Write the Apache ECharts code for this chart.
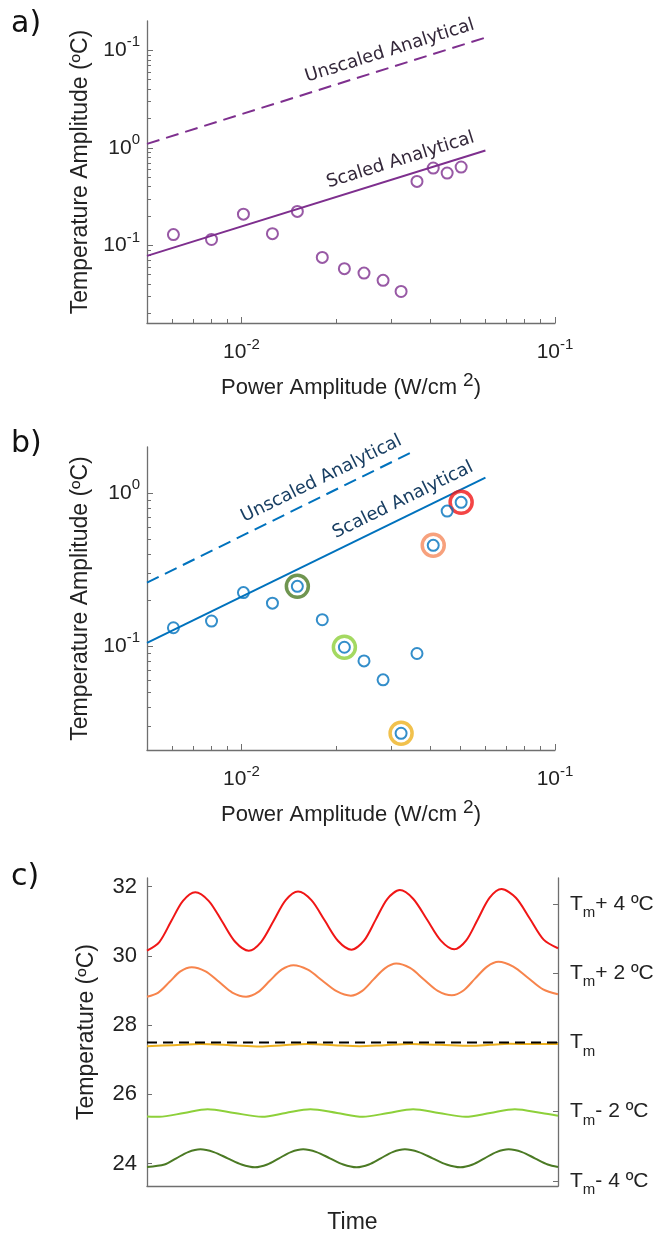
<!DOCTYPE html>
<html>
<head>
<meta charset="utf-8">
<script src="https://cdn.jsdelivr.net/npm/echarts@6/dist/echarts.min.js"></script>
<style>
  html, body { margin: 0; padding: 0; background: #ffffff; }
  #chart { width: 657px; height: 1235px; }
</style>
</head>
<body>
<div id="chart"></div>
<script>
// ---------- measured data ----------
// power amplitude of each run (W/cm^2), shared by panels a and b
const powerAmplitude = [0.00607, 0.00803, 0.01015, 0.01256, 0.01508, 0.01811, 0.0213,
                        0.0246, 0.0283, 0.0323, 0.0363, 0.0409, 0.0453, 0.0502];
// temperature amplitude (°C), panel a
const tempAmpA = [0.129, 0.115, 0.209, 0.132, 0.223, 0.0753, 0.0577,
                  0.052, 0.0438, 0.0337, 0.453, 0.621, 0.552, 0.636];
// temperature amplitude (°C), panel b
const tempAmpB = [0.132, 0.146, 0.224, 0.191, 0.246, 0.149, 0.0985,
                  0.0802, 0.0603, 0.027, 0.0896, 0.456, 0.763, 0.870];
// runs of panel b that are shown as traces in panel c
const highlightIndex = [4, 6, 9, 11, 13];

// analytical model lines: [power, temperature amplitude] end points
const scaledA = [[0.005, 0.078], [0.06, 0.94]];
const unscaledA = [[0.005, 1.10], [0.06, 13.5]];
const scaledB = [[0.005, 0.105], [0.06, 1.26]];
const unscaledB = [[0.005, 0.26], [0.0355, 1.88]];

// log-axis ticks
const xMajorTicks = [0.01, 0.1];
const xMajorExp = ['-2', '-1'];
const xMinorTicks = [0.006, 0.007, 0.008, 0.009, 0.02, 0.03, 0.04, 0.05, 0.06, 0.07, 0.08, 0.09];
const yMajorTicksA = [0.1, 1, 10];
const yMajorExpA = ['-1', '0', '-1'];
const yMinorTicksA = [0.02, 0.03, 0.04, 0.05, 0.06, 0.07, 0.08, 0.09,
                      0.2, 0.3, 0.4, 0.5, 0.6, 0.7, 0.8, 0.9,
                      2, 3, 4, 5, 6, 7, 8, 9];
const yMajorTicksB = [0.1, 1];
const yMajorExpB = ['-1', '0'];
const yMinorTicksB = [0.03, 0.04, 0.05, 0.06, 0.07, 0.08, 0.09,
                      0.2, 0.3, 0.4, 0.5, 0.6, 0.7, 0.8, 0.9];

// panel c: temperature traces, [time, °C]
const traceTmPlus4 = [[0, 30.15], [1.2, 30.40], [2.35, 31.0], [3.5, 31.59], [4.7, 31.84], [6.0, 31.59], [7.3, 31.0], [8.6, 30.40],
  [9.9, 30.15], [11.1, 30.40], [12.3, 31.0], [13.5, 31.61], [14.7, 31.86], [16.0, 31.61], [17.3, 31.02], [18.6, 30.43],
  [19.9, 30.18], [21.1, 30.43], [22.25, 31.04], [23.4, 31.65], [24.6, 31.90], [25.9, 31.65], [27.25, 31.05], [28.6, 30.44],
  [29.9, 30.19], [31.05, 30.44], [32.2, 31.06], [33.35, 31.68], [34.5, 31.93], [35.9, 31.68], [37.25, 31.08], [38.6, 30.47],
  [40, 30.22]];
const traceTmPlus2 = [[0, 28.82], [1.1, 28.94], [2.2, 29.25], [3.25, 29.55], [4.35, 29.67], [5.7, 29.55], [7.0, 29.25], [8.3, 28.94],
  [9.64, 28.82], [10.8, 28.95], [11.95, 29.28], [13.1, 29.60], [14.25, 29.73], [15.65, 29.60], [17.05, 29.29], [18.45, 28.98],
  [19.84, 28.85], [20.95, 28.99], [22.05, 29.32], [23.15, 29.64], [24.25, 29.78], [25.6, 29.65], [26.95, 29.32], [28.3, 28.99],
  [29.67, 28.86], [30.8, 29.0], [31.95, 29.35], [33.1, 29.69], [34.2, 29.83], [35.65, 29.69], [37.1, 29.36], [38.55, 29.03],
  [40, 28.89]];
const traceTm = [[0, 27.39], [2.6, 27.42], [5.2, 27.45], [8.1, 27.42], [11, 27.38], [13.3, 27.42], [15.6, 27.45], [18.2, 27.42],
  [20.7, 27.39], [23.1, 27.42], [25.6, 27.45], [28.5, 27.43], [31.5, 27.40], [33.4, 27.43], [35.3, 27.46], [37.7, 27.45], [40, 27.45]];
const traceTmMinus2 = [[0, 25.36], [1.2, 25.35], [3.6, 25.46], [5.9, 25.57], [8.5, 25.46], [11.2, 25.35], [13.5, 25.46], [15.9, 25.57],
  [18.5, 25.46], [21.0, 25.35], [23.5, 25.46], [25.9, 25.57], [28.4, 25.46], [31.0, 25.35], [33.4, 25.46], [35.8, 25.57],
  [38.4, 25.46], [40, 25.38]];
const traceTmMinus4 = [[0, 23.90], [1.7, 23.97], [2.85, 24.15], [4.0, 24.33], [5.2, 24.41], [6.5, 24.33], [7.85, 24.15], [9.2, 23.97],
  [10.5, 23.89], [11.7, 23.97], [12.85, 24.15], [14.0, 24.33], [15.2, 24.41], [16.5, 24.33], [17.8, 24.15], [19.1, 23.97],
  [20.4, 23.89], [21.6, 23.97], [22.75, 24.15], [23.9, 24.33], [25.1, 24.41], [26.45, 24.33], [27.8, 24.15], [29.15, 23.97],
  [30.5, 23.89], [31.7, 23.97], [32.85, 24.15], [34.0, 24.33], [35.2, 24.41], [36.5, 24.33], [37.75, 24.15], [39.0, 23.97],
  [40, 23.90]];
const meltingLine = [[0, 27.5], [40, 27.5]];

// panel c ticks
const tempTicks = [24, 26, 28, 30, 32];
const offsetTicks = [23.5, 25.5, 27.5, 29.5, 31.5];
const offsetLabels = ['- 4 ºC', '- 2 ºC', '', '+ 2 ºC', '+ 4 ºC'];

// ---------- styling ----------
const PURPLE = '#7E2F8E';
const BLUE = '#0072BD';
const TRACE_COLORS = ['#f01616', '#f7844c', '#EDB120', '#8dd03a', '#4b7a24']; // +4, +2, 0, -2, -4
const RING_COLORS = ['#4b7a24', '#8dd03a', '#EDB120', '#f5895c', '#f01616'];  // in highlightIndex order
const AXIS_COLOR = '#6f6f6f';
const TEXT_COLOR = '#222222';
const SANS = '"Liberation Sans", Arial, sans-serif';
const VERDANA = '"DejaVu Sans", Verdana, sans-serif';

const chart = echarts.init(document.getElementById('chart'), null, { renderer: 'canvas' });

function powerLabel(ticks, exps) {
  return function (v) {
    const i = ticks.findIndex(t => Math.abs(t - v) / t < 1e-6);
    return i < 0 ? '' : '{b|10}{s|' + exps[i] + '}';
  };
}
const powRich = {
  b: { fontFamily: SANS, fontSize: 21, color: TEXT_COLOR, padding: [5, 0, 0, 0] },
  s: { fontFamily: SANS, fontSize: 15, color: TEXT_COLOR, verticalAlign: 'top' }
};

function logXAxis(grid, major) {
  if (major) {
    return {
      type: 'log', gridIndex: grid, position: 'bottom', min: 0.005, max: 0.1,
      axisLine: { show: true, lineStyle: { color: AXIS_COLOR, width: 1.3 } },
      axisTick: { show: true, inside: true, length: 6, customValues: xMajorTicks, lineStyle: { color: AXIS_COLOR, width: 1 } },
      axisLabel: { show: true, margin: 14, customValues: xMajorTicks, formatter: powerLabel(xMajorTicks, xMajorExp), rich: powRich },
      splitLine: { show: false },
      name: '{t|Power Amplitude (W/cm }{s|2}{t|)}', nameLocation: 'middle', nameGap: 48,
      nameTextStyle: { rich: {
        t: { fontFamily: SANS, fontSize: 22, color: TEXT_COLOR, padding: [6, 0, 0, 0] },
        s: { fontFamily: SANS, fontSize: 19, color: TEXT_COLOR, verticalAlign: 'top' }
      } }
    };
  }
  return {
    type: 'log', gridIndex: grid, position: 'bottom', min: 0.005, max: 0.1,
    axisLine: { show: false },
    axisTick: { show: true, inside: true, length: 4, customValues: xMinorTicks, lineStyle: { color: AXIS_COLOR, width: 1 } },
    axisLabel: { show: false }, splitLine: { show: false }
  };
}

function logYAxis(grid, min, max, majorTicks, majorExp, minorTicks, major) {
  if (major) {
    return {
      type: 'log', gridIndex: grid, position: 'left', min: min, max: max,
      axisLine: { show: true, lineStyle: { color: AXIS_COLOR, width: 1.3 } },
      axisTick: { show: true, inside: true, length: 6, customValues: majorTicks, lineStyle: { color: AXIS_COLOR, width: 1 } },
      axisLabel: { show: true, margin: 7, customValues: majorTicks, formatter: powerLabel(majorTicks, majorExp),
                   rich: powRich, padding: [0, 0, 5, 0] },
      splitLine: { show: false },
      name: 'Temperature Amplitude (ºC)', nameLocation: 'middle', nameGap: 49,
      nameTextStyle: { fontFamily: SANS, fontSize: 23, color: TEXT_COLOR }
    };
  }
  return {
    type: 'log', gridIndex: grid, position: 'left', min: min, max: max,
    axisLine: { show: false },
    axisTick: { show: true, inside: true, length: 4, customValues: minorTicks, lineStyle: { color: AXIS_COLOR, width: 1 } },
    axisLabel: { show: false }, splitLine: { show: false }
  };
}

function modelLine(seg, color, dashed, text, textColor, xIdx, yIdx) {
  return {
    type: 'line', xAxisIndex: xIdx, yAxisIndex: yIdx, data: seg, showSymbol: false, silent: true,
    lineStyle: { color: color, width: 2, type: dashed ? [13, 7] : 'solid' },
    z: 2,
    markLine: {
      silent: true, symbol: ['none', 'none'], animation: false,
      lineStyle: { color: 'rgba(0,0,0,0)', width: 0 },
      label: { show: true, position: 'insideEndTop', formatter: text, distance: 7,
               fontFamily: VERDANA, fontSize: 18, color: textColor },
      emphasis: { disabled: true },
      data: [[{ coord: seg[0] }, { coord: seg[1] }]]
    }
  };
}

const pointsA = powerAmplitude.map((p, i) => [p, tempAmpA[i]]);
const pointsB = powerAmplitude.map((p, i) => [p, tempAmpB[i]]);
const ringPoints = highlightIndex.map((k, j) => ({
  value: [powerAmplitude[k], tempAmpB[k]],
  itemStyle: { borderColor: RING_COLORS[j] }
}));

function trace(data, color, yIdx) {
  return {
    type: 'line', xAxisIndex: 4, yAxisIndex: yIdx, data: data, smooth: 0.3, showSymbol: false, silent: true,
    lineStyle: { color: color, width: 2 }
  };
}

const panelLetter = { fontFamily: VERDANA, fontSize: 30, fontWeight: 'normal', color: '#111' };

const option = {
  animation: false,
  backgroundColor: '#ffffff',
  title: [
    { text: 'a)', left: 11, top: 9, padding: 0, textStyle: panelLetter },
    { text: 'b)', left: 11, top: 429, padding: 0, textStyle: panelLetter },
    { text: 'c)', left: 11, top: 862, padding: 0, textStyle: panelLetter }
  ],
  grid: [
    { left: 147, top: 21, width: 408, height: 302, outerBoundsMode: 'none' },
    { left: 147, top: 447, width: 408, height: 303, outerBoundsMode: 'none' },
    { left: 147, top: 878, width: 411, height: 308, outerBoundsMode: 'none' }
  ],
  xAxis: [
    logXAxis(0, true),
    logXAxis(0, false),
    logXAxis(1, true),
    logXAxis(1, false),
    {
      type: 'value', gridIndex: 2, min: 0, max: 40, position: 'bottom',
      axisLine: { show: true, lineStyle: { color: AXIS_COLOR, width: 1.3 } },
      axisTick: { show: false }, axisLabel: { show: false }, splitLine: { show: false },
      name: 'Time', nameLocation: 'middle', nameGap: 25,
      nameTextStyle: { fontFamily: SANS, fontSize: 23, color: TEXT_COLOR }
    }
  ],
  yAxis: [
    logYAxis(0, 0.016, 20, yMajorTicksA, yMajorExpA, yMinorTicksA, true),
    logYAxis(0, 0.016, 20, yMajorTicksA, yMajorExpA, yMinorTicksA, false),
    logYAxis(1, 0.021, 2, yMajorTicksB, yMajorExpB, yMinorTicksB, true),
    logYAxis(1, 0.021, 2, yMajorTicksB, yMajorExpB, yMinorTicksB, false),
    {
      type: 'value', gridIndex: 2, position: 'left', min: 23.35, max: 32.25,
      axisLine: { show: true, lineStyle: { color: AXIS_COLOR, width: 1.3 } },
      axisTick: { show: true, inside: true, length: 5, customValues: tempTicks, lineStyle: { color: AXIS_COLOR, width: 1 } },
      axisLabel: { show: true, margin: 10, customValues: tempTicks, fontFamily: SANS, fontSize: 22, color: TEXT_COLOR },
      splitLine: { show: false },
      name: 'Temperature (ºC)', nameLocation: 'middle', nameGap: 49,
      nameTextStyle: { fontFamily: SANS, fontSize: 23, color: TEXT_COLOR }
    },
    {
      type: 'value', gridIndex: 2, position: 'right', min: 23.35, max: 32.25,
      axisLine: { show: true, lineStyle: { color: AXIS_COLOR, width: 1.3 } },
      axisTick: { show: true, inside: true, length: 5, customValues: offsetTicks, lineStyle: { color: AXIS_COLOR, width: 1 } },
      axisLabel: {
        show: true, margin: 12, customValues: offsetTicks, padding: [6, 0, 0, 0],
        formatter: function (v) {
          const i = offsetTicks.findIndex(t => Math.abs(t - v) < 1e-6);
          if (i < 0) return '';
          return '{T|T}{m|m}' + (offsetLabels[i] ? '{r|' + offsetLabels[i] + '}' : '');
        },
        rich: {
          T: { fontFamily: SANS, fontSize: 21, color: TEXT_COLOR, padding: [0, 0, 6, 0] },
          m: { fontFamily: SANS, fontSize: 15, color: TEXT_COLOR, verticalAlign: 'bottom' },
          r: { fontFamily: SANS, fontSize: 21, color: TEXT_COLOR, padding: [0, 0, 6, 0] }
        }
      },
      splitLine: { show: false }
    }
  ],
  series: [
    // panel a
    modelLine(unscaledA, PURPLE, true, 'Unscaled Analytical', '#34283a', 0, 0),
    modelLine(scaledA, PURPLE, false, 'Scaled Analytical', '#34283a', 0, 0),
    {
      type: 'scatter', xAxisIndex: 0, yAxisIndex: 0, data: pointsA, symbol: 'circle', symbolSize: 11, silent: true, z: 3,
      itemStyle: { color: 'rgba(0,0,0,0)', borderColor: PURPLE, borderWidth: 2 }
    },
    // panel b
    modelLine(unscaledB, BLUE, true, 'Unscaled Analytical', '#183e62', 2, 2),
    modelLine(scaledB, BLUE, false, 'Scaled Analytical', '#183e62', 2, 2),
    {
      type: 'scatter', xAxisIndex: 2, yAxisIndex: 2, data: ringPoints, symbol: 'circle', symbolSize: 22, silent: true, z: 3,
      itemStyle: { color: 'rgba(0,0,0,0)', borderWidth: 3.5 }
    },
    {
      type: 'scatter', xAxisIndex: 2, yAxisIndex: 2, data: pointsB, symbol: 'circle', symbolSize: 11, silent: true, z: 4,
      itemStyle: { color: 'rgba(0,0,0,0)', borderColor: BLUE, borderWidth: 2 }
    },
    // panel c
    trace(traceTmPlus4, TRACE_COLORS[0], 4),
    trace(traceTmPlus2, TRACE_COLORS[1], 4),
    trace(traceTm, TRACE_COLORS[2], 4),
    trace(traceTmMinus2, TRACE_COLORS[3], 4),
    trace(traceTmMinus4, TRACE_COLORS[4], 4),
    {
      type: 'line', xAxisIndex: 4, yAxisIndex: 4, data: meltingLine, showSymbol: false, silent: true, z: 3,
      lineStyle: { color: '#000000', width: 2, type: [10, 6] }
    }
  ]
};

chart.setOption(option);
</script>
</body>
</html>
